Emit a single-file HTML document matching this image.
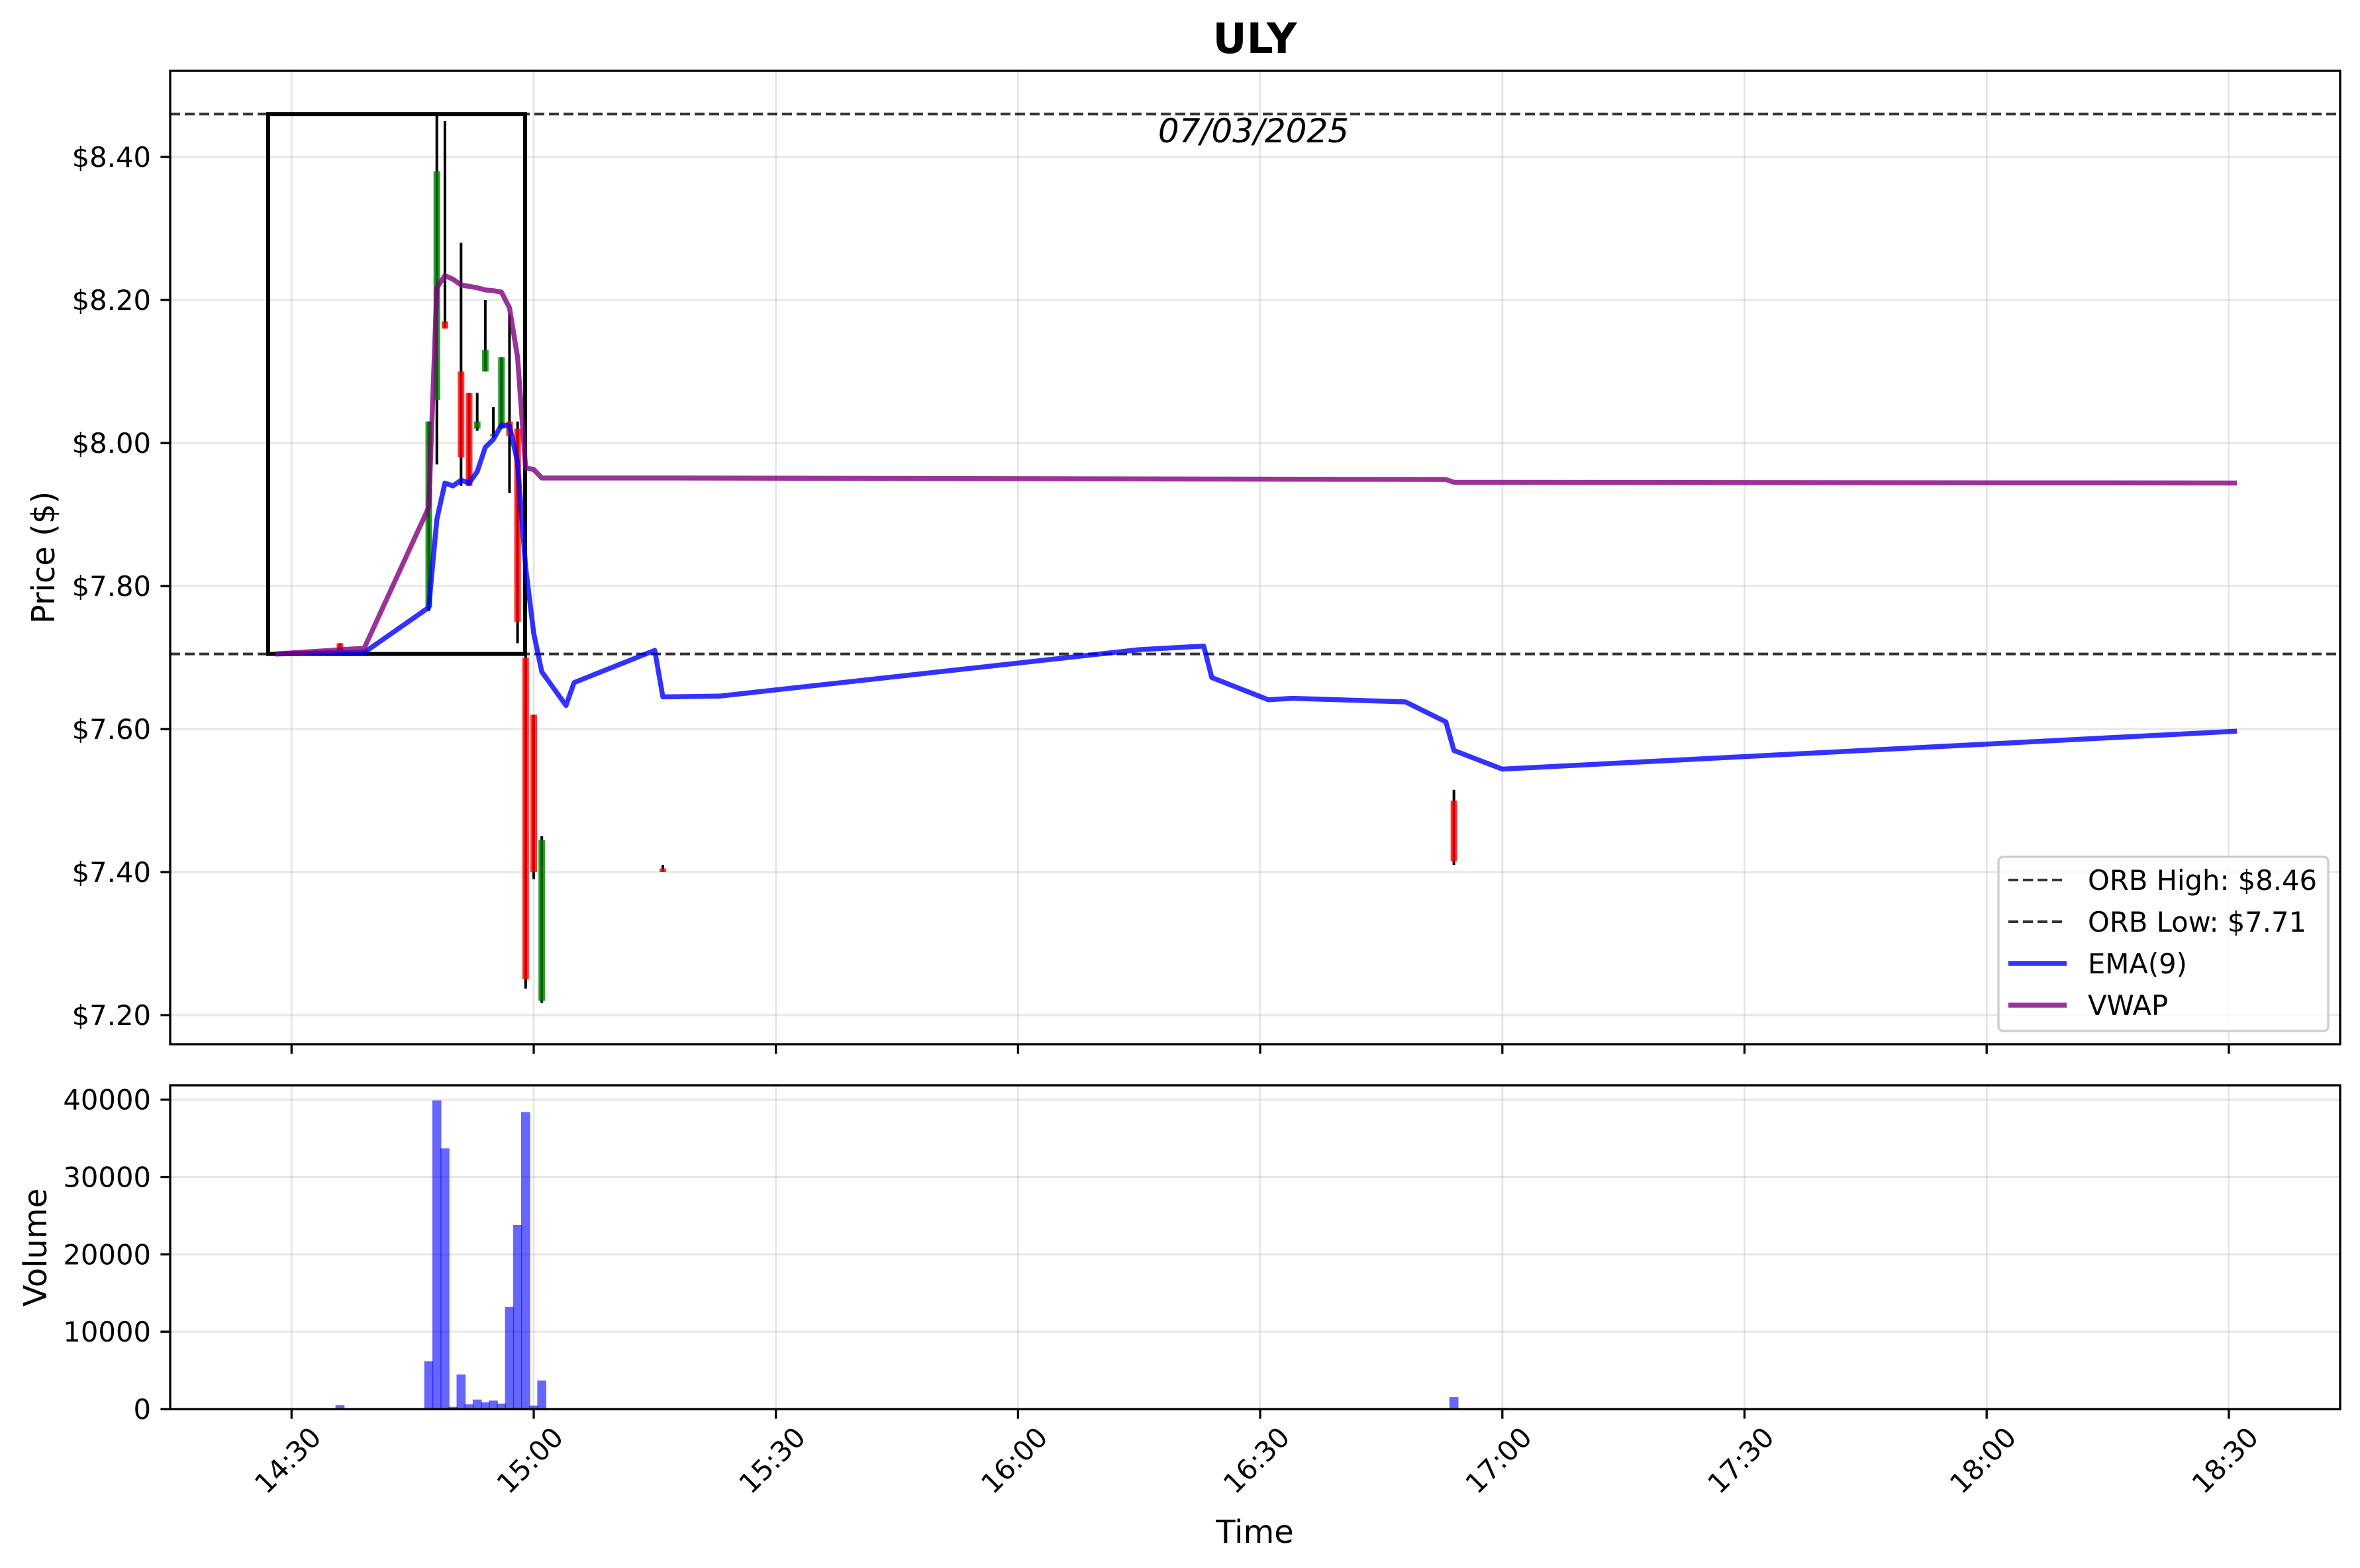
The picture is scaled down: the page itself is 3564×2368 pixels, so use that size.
<!DOCTYPE html>
<html><head><meta charset="utf-8"><style>
html,body{margin:0;padding:0;background:#fff;}
svg{display:block;font-family:"DejaVu Sans","Liberation Sans",sans-serif;}
</style></head><body>
<svg id="chart" width="3564" height="2368" viewBox="0 0 3564 2368" xmlns="http://www.w3.org/2000/svg">
<rect width="3564" height="2368" fill="#fff"/>
<text x="1895" y="80" font-size="63" font-weight="bold" text-anchor="middle">ULY</text>
<g id="price-grid"></g><g id="vol-grid"></g>
<g id="price-marks"></g><g id="vol-marks"></g>
<g id="axes"></g>
</svg>
<script>
// ---- data (minutes since 14:30) ----
const candleTimes = [6, 9, 17, 18, 19, 21, 22, 23, 24, 25, 26, 27, 28, 29, 30, 31, 46, 144];
const candleOpen  = [7.72, 7.71, 7.77, 8.06, 8.17, 8.10, 8.07, 8.02, 8.10, 8.01, 8.02, 8.03, 8.02, 7.70, 7.62, 7.22, 7.405, 7.50];
const candleHigh  = [7.72, 7.71, 8.03, 8.46, 8.45, 8.28, 8.07, 8.07, 8.20, 8.05, 8.12, 8.18, 8.03, 7.71, 7.62, 7.45, 7.41, 7.515];
const candleLow   = [7.71, 7.71, 7.765, 7.97, 8.16, 7.94, 7.94, 8.017, 8.10, 8.007, 8.02, 7.93, 7.72, 7.237, 7.39, 7.217, 7.40, 7.41];
const candleClose = [7.71, 7.711, 8.03, 8.38, 8.16, 7.98, 7.94, 8.03, 8.13, 8.012, 8.12, 8.01, 7.75, 7.25, 7.40, 7.445, 7.40, 7.415];

const emaTimes  = [-2, 6, 9, 17, 18, 19, 20, 21, 22, 23, 24, 25, 26, 27, 28, 29, 30, 31, 34, 35, 45, 46, 53, 105, 113, 114, 121, 124, 138, 143, 144, 150, 241];
const emaValues = [7.705, 7.707, 7.707, 7.77, 7.893, 7.944, 7.94, 7.948, 7.944, 7.96, 7.994, 8.005, 8.025, 8.024, 7.973, 7.826, 7.734, 7.68, 7.633, 7.665, 7.71, 7.645, 7.646, 7.711, 7.716, 7.672, 7.641, 7.643, 7.638, 7.61, 7.57, 7.544, 7.597];

const vwapTimes  = [-2, 9, 17, 18, 19, 20, 21, 22, 23, 24, 25, 26, 27, 28, 29, 30, 31, 46, 143, 144, 241];
const vwapValues = [7.705, 7.713, 7.91, 8.217, 8.234, 8.229, 8.221, 8.219, 8.217, 8.214, 8.213, 8.211, 8.189, 8.12, 7.965, 7.963, 7.951, 7.951, 7.949, 7.945, 7.944];

const volTimes  = [6, 9, 17, 18, 19, 20, 21, 22, 23, 24, 25, 26, 27, 28, 29, 30, 31, 35, 46, 90, 114, 125, 144, 150];
const volValues = [500, 100, 6190, 39900, 33700, 290, 4480, 630, 1230, 880, 1110, 710, 13200, 23800, 38400, 460, 3700, 100, 100, 100, 100, 100, 1550, 150];

const orbHigh = 8.46, orbLow = 7.705;
const priceTicks = [7.2, 7.4, 7.6, 7.8, 8.0, 8.2, 8.4];
const volTicks = [0, 10000, 20000, 30000, 40000];
const timeTicks = [0, 30, 60, 90, 120, 150, 180, 210, 240];
const timeLabels = ["14:30","15:00","15:30","16:00","16:30","17:00","17:30","18:00","18:30"];

// ---- geometry ----
const L = 257, R = 3534, PT = 107, PB = 1577, VT = 1639, VB = 2128;
const X = t => 440.3 + t * 12.19;
const YP = p => 237 + (8.40 - p) * 1080;
const YV = v => 2128 - v * (467.3 / 40000);
const NS = "http://www.w3.org/2000/svg";
const FS = 41.7;
function mk(parent, tag, attrs) {
  const e = document.createElementNS(NS, tag);
  for (const k in attrs) e.setAttribute(k, attrs[k]);
  parent.appendChild(e);
  return e;
}
const pg = document.getElementById('price-grid'), vg = document.getElementById('vol-grid');
const pm = document.getElementById('price-marks'), vm = document.getElementById('vol-marks');
const ax = document.getElementById('axes');

// grid
priceTicks.forEach(p => {
  const g = mk(pg, 'line', {x1: L, x2: R, y1: YP(p), y2: YP(p), stroke: '#b0b0b0', 'stroke-opacity': 0.3, 'stroke-width': 3});
  
  
});
volTicks.forEach(v => {
  const g = mk(vg, 'line', {x1: L, x2: R, y1: YV(v), y2: YV(v), stroke: '#b0b0b0', 'stroke-opacity': 0.3, 'stroke-width': 3});
  
  
});
timeTicks.forEach(t => {
  const a = mk(pg, 'line', {x1: X(t), x2: X(t), y1: PT, y2: PB, stroke: '#b0b0b0', 'stroke-opacity': 0.3, 'stroke-width': 3});
  
  
  const b = mk(vg, 'line', {x1: X(t), x2: X(t), y1: VT, y2: VB, stroke: '#b0b0b0', 'stroke-opacity': 0.3, 'stroke-width': 3});
  
  
});

// ORB box and lines
const box = mk(pm, 'rect', {x: 405, y: YP(orbHigh), width: 793 - 405, height: YP(orbLow) - YP(orbHigh), fill: 'none', stroke: '#000', 'stroke-width': 6});


[orbHigh, orbLow].forEach((p, i) => {
  const l = mk(pm, 'line', {x1: L, x2: R, y1: YP(p), y2: YP(p), stroke: '#000', 'stroke-opacity': 0.8, 'stroke-width': 4, 'stroke-dasharray': '15,7'});
  
  
});

// candles
candleTimes.forEach((t, i) => {
  const o = candleOpen[i], c = candleClose[i];
  const w = mk(pm, 'line', {x1: X(t), x2: X(t), y1: YP(candleHigh[i]), y2: YP(candleLow[i]), stroke: '#000', 'stroke-width': 4});
  
  
  const top = YP(Math.max(o, c)), bot = YP(Math.min(o, c));
  const b = mk(pm, 'rect', {x: X(t) - 5, y: top, width: 10, height: Math.max(bot - top, 3), fill: c >= o ? '#008000' : '#ff0000', 'fill-opacity': 0.8});
  
  
});

// lines
function poly(ts, vs, color, name) {
  const pts = ts.map((t, i) => X(t).toFixed(1) + ',' + YP(vs[i]).toFixed(1)).join(' ');
  const p = mk(pm, 'polyline', {points: pts, fill: 'none', stroke: color, 'stroke-opacity': 0.8, 'stroke-width': 7.5, 'stroke-linejoin': 'round'});
  
  
}
poly(emaTimes, emaValues, '#0000ff', 'ema-line');
poly(vwapTimes, vwapValues, '#800080', 'vwap-line');

// volume bars
volTimes.forEach((t, i) => {
  const b = mk(vm, 'rect', {x: X(t) - 6.8, y: YV(volValues[i]), width: 13.6, height: VB - YV(volValues[i]), fill: '#0000ff', 'fill-opacity': 0.6});
  
  
});

// date label
const dl = mk(ax, 'text', {x: 1893, y: 215, 'font-size': 50, 'font-style': 'italic', 'text-anchor': 'middle'});
dl.textContent = '07/03/2025';



// spines
[[PT, PB, 'price-axes-frame'], [VT, VB, 'volume-axes-frame']].forEach(([t, b, n]) => {
  const r = mk(ax, 'rect', {x: L, y: t, width: R - L, height: b - t, fill: 'none', stroke: '#000', 'stroke-width': 3.3});
  
  
});

// y ticks
priceTicks.forEach(p => {
  const tk = mk(ax, 'line', {x1: L - 14.6, x2: L, y1: YP(p), y2: YP(p), stroke: '#000', 'stroke-width': 3.3});
  
  
  const tx = mk(ax, 'text', {x: 228, y: YP(p) + 15, 'font-size': FS, 'text-anchor': 'end'});
  tx.textContent = '$' + p.toFixed(2);
  
  
});
volTicks.forEach(v => {
  const tk = mk(ax, 'line', {x1: L - 14.6, x2: L, y1: YV(v), y2: YV(v), stroke: '#000', 'stroke-width': 3.3});
  
  
  const tx = mk(ax, 'text', {x: 228, y: YV(v) + 15, 'font-size': FS, 'text-anchor': 'end'});
  tx.textContent = String(v);
  
  
});
// x ticks
timeTicks.forEach((t, i) => {
  const a = mk(ax, 'line', {x1: X(t), x2: X(t), y1: PB, y2: PB + 14.6, stroke: '#000', 'stroke-width': 3.3});
  
  
  const b = mk(ax, 'line', {x1: X(t), x2: X(t), y1: VB, y2: VB + 14.6, stroke: '#000', 'stroke-width': 3.3});
  
  
  const cx = X(t) - 6, cy = 2205;
  const tx = mk(ax, 'text', {x: cx, y: cy + 15, 'font-size': FS, 'text-anchor': 'middle', transform: `rotate(-45 ${cx} ${cy})`});
  tx.textContent = timeLabels[i];
  
  
});

// axis titles
const xt = mk(ax, 'text', {x: 1895, y: 2330, 'font-size': 48, 'text-anchor': 'middle'});
xt.textContent = 'Time';


const yt = mk(ax, 'text', {x: 0, y: 0, 'font-size': 48, 'text-anchor': 'middle', transform: 'translate(82 842) rotate(-90)'});
yt.textContent = 'Price ($)';


const vt = mk(ax, 'text', {x: 0, y: 0, 'font-size': 48, 'text-anchor': 'middle', transform: 'translate(70 1884) rotate(-90)'});
vt.textContent = 'Volume';



// legend
const lg = mk(ax, 'g', {});


mk(lg, 'rect', {x: 3018, y: 1294, width: 498, height: 263, rx: 7, fill: '#fff', 'fill-opacity': 0.8, stroke: '#cccccc', 'stroke-width': 3.3});
const legItems = [
  ['ORB High: $8.46', '#333', 4, '15,7', 'legend-entry-orb-high'],
  ['ORB Low: $7.71', '#333', 4, '15,7', 'legend-entry-orb-low'],
  ['EMA(9)', '#3333ff', 7.5, '', 'legend-entry-ema'],
  ['VWAP', '#993399', 7.5, '', 'legend-entry-vwap']
];
legItems.forEach((it, i) => {
  const y = 1329 + i * 63;
  const g = mk(lg, 'g', {});
  
  
  const ln = {x1: 3033, x2: 3121, y1: y, y2: y, stroke: it[1], 'stroke-width': it[2]};
  if (it[3]) ln['stroke-dasharray'] = it[3];
  mk(g, 'line', ln);
  const tx = mk(g, 'text', {x: 3153, y: y + 15, 'font-size': FS});
  tx.textContent = it[0];
});
</script>
</body></html>
